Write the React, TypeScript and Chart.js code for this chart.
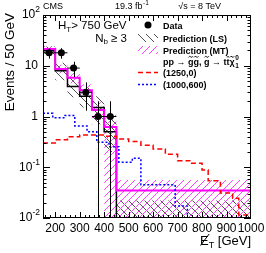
import React, { useEffect, useRef } from 'react';
import { Chart, registerables } from 'chart.js';

Chart.register(...registerables);

const W = 266;
const H = 253;
const X_MIN = 150;
const X_MAX = 1000;
const Y_MIN = 0.01;
const Y_MAX = 100;

// Background predictions (50 GeV bins, last bin 450-1000)
const BKG_EDGES = [150, 200, 250, 300, 350, 400, 450, 1000];
const LS_VALUES = [19.8, 8.0, 3.9, 2.5, 1.5, 0.5, 0];
const LS_HIGH = [24, 11.5, 6.0, 3.8, 2.5, 0.95, 0.022];
const LS_LOW = [16, 5.2, 2.4, 1.5, 0.7, 0.2, 0];
const MT_VALUES = [21.4, 8.6, 5.8, 3.3, 1.35, 0.62, 0.035];
const MT_HIGH = [24.5, 10.5, 7.2, 4.3, 1.9, 1.1, 0.056];
const MT_LOW = [18.5, 7.0, 4.5, 2.5, 0.85, 0, 0];

// Observed data
const DATA_X = [175, 225, 275, 325, 375, 425];
const DATA_Y = [18, 18, 9, 3, 1, 1];
const DATA_ERR = [4.2, 4.2, 3.0, 1.7, 1.0, 1.0];
const DATA_HALF_BIN = 25;

// Signal (1250,0)
const SIG1_EDGES = [150, 200, 250, 300, 400, 450, 500, 550, 600, 650, 700, 750, 800, 825, 875, 925, 950, 1000];
const SIG1_VALUES = [0.30, 0.35, 0.40, 0.43, 0.41, 0.36, 0.32, 0.27, 0.23, 0.18, 0.135, 0.12, 0.088, 0.054, 0.031, 0.0245, 0.0115];

// Signal (1000,600)
const SIG2_EDGES = [150, 190, 240, 280, 330, 370, 420, 460, 515, 550, 690, 740, 1000];
const SIG2_VALUES = [1.16, 0.95, 1.05, 0.65, 0.50, 0.31, 0.254, 0.126, 0.15, 0.045, 0.0172, 0];

const X_TICKS = [200, 300, 400, 500, 600, 700, 800, 900, 1000];
const X_TICK_LABELS = ['200', '300', '400', '500', '600', '700', '800', '900', '1000'];
const Y_TICKS = [0.01, 0.1, 1, 10, 100];
const Y_TICK_BASES = ['10', '10', '1', '10', '10'];
const Y_TICK_EXPS = ['-2', '-1', '', '', '2'];

const FONT = '"Liberation Sans", Arial, Helvetica, "DejaVu Sans", sans-serif';
const f = (size: number, bold = false) => `${bold ? 'bold ' : ''}${size}px ${FONT}`;

const floorV = (v: number) => (v > 0 ? v : Y_MIN);

function stepPoints(edges: number[], values: number[]) {
  const pts = values.map((v, i) => ({ x: edges[i], y: floorV(v) }));
  pts.push({ x: edges[edges.length - 1], y: floorV(values[values.length - 1]) });
  return pts;
}

function makeHatch(color: string, s: number, dir: '/' | '\\', lw: number) {
  const c = document.createElement('canvas');
  c.width = s;
  c.height = s;
  const g = c.getContext('2d')!;
  g.strokeStyle = color;
  g.lineWidth = lw;
  g.beginPath();
  for (let k = -1; k <= 1; k++) {
    if (dir === '/') {
      g.moveTo(k * s, s);
      g.lineTo(k * s + s, 0);
    } else {
      g.moveTo(k * s, 0);
      g.lineTo(k * s + s, s);
    }
  }
  g.stroke();
  return g.createPattern(c, 'repeat')!;
}

export default function App() {
  const ref = useRef<HTMLCanvasElement>(null);

  useEffect(() => {
    const canvas = ref.current!;
    const lsHatch = makeHatch('#505050', 8, '\\', 1);
    const mtHatch = makeHatch('#ff44ff', 7, '/', 1);

    const decor = {
      id: 'decor',
      afterDatasetsDraw(chart: any) {
        const ctx = chart.ctx;
        const xs = chart.scales.x;
        const ys = chart.scales.y;
        const a = chart.chartArea;
        ctx.save();
        ctx.beginPath();
        ctx.rect(a.left, a.top, a.right - a.left, a.bottom - a.top);
        ctx.clip();
        ctx.strokeStyle = '#000';
        ctx.lineWidth = 1;
        DATA_X.forEach((xv, i) => {
          const v = DATA_Y[i];
          const px = Math.round(xs.getPixelForValue(xv)) + 0.5;
          const py = ys.getPixelForValue(v);
          const hi = ys.getPixelForValue(v + DATA_ERR[i]);
          const lo = ys.getPixelForValue(floorV(v - DATA_ERR[i]));
          ctx.beginPath();
          ctx.moveTo(px, hi);
          ctx.lineTo(px, lo);
          ctx.moveTo(xs.getPixelForValue(xv - DATA_HALF_BIN), py);
          ctx.lineTo(xs.getPixelForValue(xv + DATA_HALF_BIN), py);
          ctx.stroke();
        });
        ctx.restore();
      },
      afterDraw(chart: any) {
        const ctx = chart.ctx;
        const xs = chart.scales.x;
        const ys = chart.scales.y;
        const a = chart.chartArea;
        ctx.save();
        ctx.fillStyle = '#000';
        ctx.strokeStyle = '#000';
        ctx.lineWidth = 1;
        // frame
        ctx.strokeRect(a.left + 0.5, a.top + 0.5, a.right - a.left - 1, a.bottom - a.top - 1);
        // x ticks
        ctx.beginPath();
        for (let v = 160; v < X_MAX; v += 20) {
          const px = Math.round(xs.getPixelForValue(v)) + 0.5;
          const major = v % 100 === 0;
          const len = major ? 6 : 3;
          ctx.moveTo(px, a.bottom);
          ctx.lineTo(px, a.bottom - len);
          ctx.moveTo(px, a.top);
          ctx.lineTo(px, a.top + len);
        }
        // y ticks
        for (let d = -2; d < 2; d++) {
          for (let m = 1; m <= 9; m++) {
            const v = m * Math.pow(10, d);
            const py = Math.round(ys.getPixelForValue(v)) + 0.5;
            const len = m === 1 ? 7 : 3.5;
            ctx.moveTo(a.left, py);
            ctx.lineTo(a.left + len, py);
            ctx.moveTo(a.right, py);
            ctx.lineTo(a.right - len, py);
          }
        }
        ctx.stroke();
        // x labels
        ctx.font = f(12);
        ctx.textAlign = 'center';
        ctx.textBaseline = 'alphabetic';
        X_TICKS.forEach((v, i) => {
          ctx.fillText(X_TICK_LABELS[i], xs.getPixelForValue(v), 232);
        });
        // y labels
        Y_TICKS.forEach((v, i) => {
          const py = ys.getPixelForValue(v);
          const base = Y_TICK_BASES[i];
          const exp = Y_TICK_EXPS[i];
          ctx.textBaseline = 'middle';
          if (exp) {
            ctx.font = f(8.5);
            const we = ctx.measureText(exp).width;
            ctx.textAlign = 'left';
            ctx.fillText(exp, 40 - we, py - 5);
            ctx.font = f(12);
            ctx.textAlign = 'right';
            ctx.fillText(base, 40 - we, py);
          } else {
            ctx.font = f(12);
            ctx.textAlign = 'right';
            ctx.fillText(base, 38, py);
          }
        });
        // axis titles
        ctx.textBaseline = 'alphabetic';
        ctx.save();
        ctx.translate(14, 13);
        ctx.rotate(-Math.PI / 2);
        ctx.font = f(13.5);
        ctx.textAlign = 'right';
        ctx.fillText('Events / 50 GeV', 0, 0);
        ctx.restore();

        ctx.textAlign = 'left';
        ctx.font = f(13);
        const wE = ctx.measureText('E').width;
        const wRest = ctx.measureText(' [GeV]').width;
        ctx.font = f(9);
        const wT = ctx.measureText('T').width;
        const xb = 244.5;
        const x0 = a.right - (wE + wT + wRest);
        ctx.font = f(13);
        ctx.fillText('E', x0, xb);
        ctx.beginPath();
        ctx.moveTo(x0 + 0.5, xb + 1);
        ctx.lineTo(x0 + wE + 0.5, xb - 10.5);
        ctx.stroke();
        ctx.font = f(9);
        ctx.fillText('T', x0 + wE, xb + 3);
        ctx.font = f(13);
        ctx.fillText(' [GeV]', x0 + wE + wT, xb);

        // header
        ctx.font = f(9);
        ctx.fillText('CMS', 43, 8.5);
        ctx.fillText('19.3 fb', 115, 8.5);
        const wfb = ctx.measureText('19.3 fb').width;
        ctx.font = f(6.5);
        ctx.fillText('-1', 115 + wfb + 0.5, 5);
        ctx.font = f(9);
        ctx.textAlign = 'right';
        ctx.fillText('\u221As = 8 TeV', 221, 8.5);

        // selection text
        ctx.textAlign = 'left';
        ctx.font = f(11.5);
        ctx.fillText('H', 58, 29);
        const wH = ctx.measureText('H').width;
        ctx.font = f(8);
        ctx.fillText('T', 58 + wH, 32);
        const wTT = ctx.measureText('T').width;
        ctx.font = f(11.5);
        ctx.fillText('> 750 GeV', 58 + wH + wTT, 29);

        const wN = ctx.measureText('N').width;
        const wGe = ctx.measureText(' \u2265 3').width;
        ctx.font = f(8);
        const wb = ctx.measureText('b').width;
        const nx = 127 - (wN + wb + wGe);
        ctx.font = f(11.5);
        ctx.fillText('N', nx, 41.5);
        ctx.font = f(8);
        ctx.fillText('b', nx + wN, 44);
        ctx.font = f(11.5);
        ctx.fillText(' \u2265 3', nx + wN + wb, 41.5);

        // legend
        const sx = 138;
        const sw = 20;
        const tx = 163;
        const LF = f(9, true);
        ctx.font = LF;
        ctx.textBaseline = 'alphabetic';
        // Data
        ctx.beginPath();
        ctx.arc(148, 25, 3.5, 0, Math.PI * 2);
        ctx.fill();
        ctx.fillText('Data', tx, 28.5);
        // LS
        ctx.fillStyle = lsHatch;
        ctx.fillRect(sx, 34, sw, 8);
        ctx.fillStyle = '#000';
        ctx.fillText('Prediction (LS)', tx, 41.5);
        // MT
        ctx.fillStyle = mtHatch;
        ctx.fillRect(sx, 46, sw, 8);
        ctx.fillStyle = '#000';
        ctx.fillText('Prediction (MT)', tx, 53.5);
        // process text with accents drawn by hand
        const pb = 65;
        let cx = tx;
        const tilde = (x: number, w: number) => {
          const mid = x + w / 2;
          const yb = pb - 8.2;
          ctx.beginPath();
          ctx.moveTo(mid - 2.2, yb + 0.6);
          ctx.quadraticCurveTo(mid - 1.1, yb - 1.4, mid, yb);
          ctx.quadraticCurveTo(mid + 1.1, yb + 1.4, mid + 2.2, yb - 0.6);
          ctx.stroke();
        };
        const put = (s: string, acc: '' | 'tilde' | 'bar' = '') => {
          const w = ctx.measureText(s).width;
          ctx.fillText(s, cx, pb);
          if (acc === 'tilde') tilde(cx, w);
          if (acc === 'bar') {
            ctx.beginPath();
            ctx.moveTo(cx + 0.3, pb - 8.2);
            ctx.lineTo(cx + w - 0.3, pb - 8.2);
            ctx.stroke();
          }
          cx += w;
        };
        ctx.lineWidth = 0.9;
        put('pp \u2192 ');
        put('g', 'tilde');
        put('g', 'tilde');
        put(', ');
        put('g', 'tilde');
        put(' \u2192 t');
        put('t', 'bar');
        put('\u03C7', 'tilde');
        ctx.font = f(6.5, true);
        ctx.fillText('0', cx + 0.5, pb - 5);
        ctx.fillText('1', cx + 0.5, pb + 2.5);
        ctx.font = LF;
        // signals
        ctx.lineWidth = 1.5;
        ctx.strokeStyle = '#ff0000';
        ctx.setLineDash([5, 3]);
        ctx.beginPath();
        ctx.moveTo(sx, 72.5);
        ctx.lineTo(sx + sw, 72.5);
        ctx.stroke();
        ctx.fillText('(1250,0)', tx, 76);
        ctx.strokeStyle = '#0000ff';
        ctx.setLineDash([2, 2]);
        ctx.beginPath();
        ctx.moveTo(sx, 84.5);
        ctx.lineTo(sx + sw, 84.5);
        ctx.stroke();
        ctx.setLineDash([]);
        ctx.fillText('(1000,600)', tx, 88);
        ctx.restore();
      },
    };

    const common = { pointRadius: 0, pointHoverRadius: 0, tension: 0, stepped: true as const };

    const chart = new Chart(canvas, {
      type: 'line',
      data: {
        datasets: [
          { ...common, label: 'LS hi', data: stepPoints(BKG_EDGES, LS_HIGH), borderWidth: 0, borderColor: 'rgba(0,0,0,0)', backgroundColor: lsHatch, fill: '+1', order: 20 },
          { ...common, label: 'LS lo', data: stepPoints(BKG_EDGES, LS_LOW), borderWidth: 0, borderColor: 'rgba(0,0,0,0)', fill: false, order: 20 },
          { ...common, label: 'MT hi', data: stepPoints(BKG_EDGES, MT_HIGH), borderWidth: 0, borderColor: 'rgba(0,0,0,0)', backgroundColor: mtHatch, fill: '+1', order: 18 },
          { ...common, label: 'MT lo', data: stepPoints(BKG_EDGES, MT_LOW), borderWidth: 0, borderColor: 'rgba(0,0,0,0)', fill: false, order: 18 },
          { ...common, label: 'LS', data: stepPoints(BKG_EDGES, LS_VALUES), borderWidth: 1.5, borderColor: '#000', fill: false, order: 10 },
          { ...common, label: 'MT', data: stepPoints(BKG_EDGES, MT_VALUES), borderWidth: 2, borderColor: '#ff00ff', fill: false, order: 8 },
          { ...common, label: 'sig1', data: stepPoints(SIG1_EDGES, SIG1_VALUES), borderWidth: 1.5, borderColor: '#ff0000', borderDash: [5, 3], fill: false, order: 6 },
          { ...common, label: 'sig2', data: stepPoints(SIG2_EDGES, SIG2_VALUES), borderWidth: 1.5, borderColor: '#0000ff', borderDash: [2, 2], fill: false, order: 4 },
          {
            label: 'Data',
            data: DATA_X.map((x, i) => ({ x, y: DATA_Y[i] })),
            showLine: false,
            pointRadius: 3.5,
            pointBackgroundColor: '#000',
            pointBorderColor: '#000',
            pointBorderWidth: 0,
            order: 0,
          },
        ],
      },
      options: {
        responsive: false,
        animation: false,
        devicePixelRatio: 1,
        events: [],
        layout: { padding: { left: 43, right: 15, top: 15, bottom: 35 } },
        plugins: { legend: { display: false }, tooltip: { enabled: false } },
        scales: {
          x: { type: 'linear', min: X_MIN, max: X_MAX, display: false },
          y: { type: 'logarithmic', min: Y_MIN, max: Y_MAX, display: false },
        },
      },
      plugins: [decor],
    });
    return () => chart.destroy();
  }, []);

  return (
    <canvas
      ref={ref}
      width={W}
      height={H}
      style={{ position: 'fixed', left: 0, top: 0, background: '#fff' }}
    />
  );
}
